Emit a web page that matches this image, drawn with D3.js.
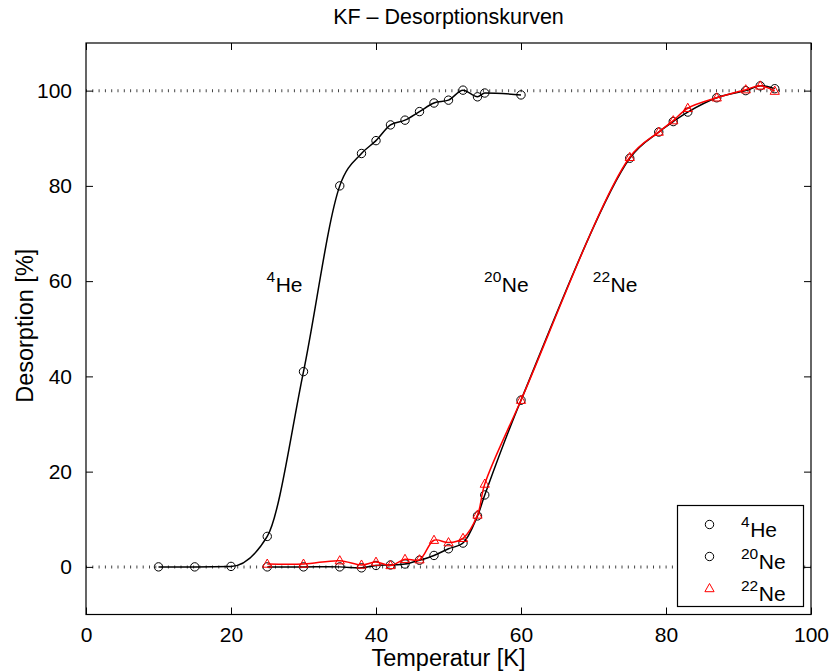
<!DOCTYPE html>
<html>
<head>
<meta charset="utf-8">
<script src="https://cdn.jsdelivr.net/npm/d3@7"></script>
<style>
  html, body { margin: 0; padding: 0; background: #fff; }
  svg { display: block; font-family: "Liberation Sans", Arial, Helvetica, sans-serif; }
</style>
</head>
<body>
<svg id="chart" width="832" height="671"></svg>
<script>
// Desorption measurements (temperature in K, desorption in %)
const heTemps = [10, 15, 20, 25, 30, 35, 38, 40, 42, 44, 46, 48, 50, 52, 54, 55, 60];
const he4 = [0, 0, 0.1, 6.4, 41.0, 80.0, 86.8, 89.5, 92.8, 93.8, 95.6, 97.4, 98.0, 100.1, 98.7, 99.5, 99.1];

const neTemps = [25, 30, 35, 38, 40, 42, 44, 46, 48, 50, 52, 54, 55, 60, 75, 79, 81, 83, 87, 91, 93, 95];
const ne20 = [0, 0, 0, -0.2, 0.3, 0.4, 0.6, 1.4, 2.4, 3.8, 5.0, 10.7, 15.1, 35.0, 85.8, 91.3, 93.5, 95.5, 98.5, 100.0, 101.0, 100.4];
const ne22 = [0.6, 0.6, 1.3, 0.4, 1.0, 0.3, 1.6, 1.5, 5.6, 5.1, 6.0, 10.9, 17.4, 35.0, 86.0, 91.3, 93.7, 96.3, 98.5, 100.2, 101.0, 99.9];

const xTicks = [0, 20, 40, 60, 80, 100];
const yTicks = [0, 20, 40, 60, 80, 100];
const refLevels = [0, 100];

const titleText = "KF \u2013 Desorptionskurven";
const xLabel = "Temperatur [K]";
const yLabel = "Desorption [%]";

// He uses a shape-preserving interpolant (flat tail stays flat), Ne a centripetal spline
const series = [
  { mass: "4",  name: "He", temps: heTemps, values: he4,  color: "#000", marker: "circle",   curve: d3.curveMonotoneX },
  { mass: "20", name: "Ne", temps: neTemps, values: ne20, color: "#000", marker: "circle",   curve: d3.curveCatmullRom.alpha(0.5) },
  { mass: "22", name: "Ne", temps: neTemps, values: ne22, color: "#f00", marker: "triangle", curve: d3.curveCatmullRom.alpha(0.5) }
];

const svg = d3.select("#chart");
const plotL = 86, plotR = 811, plotT = 43, plotB = 614.5;
const fs = 21, supFs = 15.5, labelFs = 23.5, titleFs = 21.5;

const x = d3.scaleLinear().domain([0, 100]).range([plotL, plotR]);
const y = d3.scaleLinear().domain([-10, 110]).range([plotB, plotT]);

// Dotted reference lines at 0 % and 100 %
svg.append("g").selectAll("line").data(refLevels).join("line")
  .attr("x1", plotL).attr("x2", plotR)
  .attr("y1", d => y(d)).attr("y2", d => y(d))
  .attr("stroke", "#444").attr("stroke-width", 3)
  .attr("stroke-dasharray", "1 5.3");

const triPath = "M0,-5L4.6,3.2L-4.6,3.2Z";

// Smooth curves through the measured points, then the markers
series.forEach(s => {
  const pts = s.temps.map((t, i) => [x(t), y(s.values[i])]);
  svg.append("path")
    .attr("d", d3.line().curve(s.curve)(pts))
    .attr("fill", "none")
    .attr("stroke", s.color)
    .attr("stroke-width", 1.5);
  const g = svg.append("g");
  if (s.marker === "circle") {
    g.selectAll("circle").data(pts).join("circle")
      .attr("cx", d => d[0]).attr("cy", d => d[1]).attr("r", 4.2)
      .attr("fill", "none").attr("stroke", s.color).attr("stroke-width", 1);
  } else {
    g.selectAll("path").data(pts).join("path")
      .attr("d", triPath)
      .attr("transform", d => `translate(${d[0]},${d[1]})`)
      .attr("fill", "none").attr("stroke", s.color).attr("stroke-width", 1);
  }
});

// Axes box with inward ticks on all four sides
const tickLen = 7;
const axB = d3.axisBottom(x).tickValues(xTicks).tickSizeInner(-tickLen).tickSizeOuter(0).tickPadding(13);
const axT = d3.axisTop(x).tickValues(xTicks).tickSizeInner(-tickLen).tickSizeOuter(0).tickFormat("");
const axL = d3.axisLeft(y).tickValues(yTicks).tickSizeInner(-tickLen).tickSizeOuter(0).tickPadding(14);
const axR = d3.axisRight(y).tickValues(yTicks).tickSizeInner(-tickLen).tickSizeOuter(0).tickFormat("");

function styleAxis(g) {
  g.select(".domain").remove();
  g.selectAll("line").attr("stroke", "#000").attr("stroke-width", 1);
  g.selectAll("text").attr("font-size", fs).attr("fill", "#000").attr("font-family", null);
}
svg.append("g").attr("transform", `translate(0,${plotB})`).call(axB).call(styleAxis);
svg.append("g").attr("transform", `translate(0,${plotT})`).call(axT).call(styleAxis);
svg.append("g").attr("transform", `translate(${plotL},0)`).call(axL).call(styleAxis);
svg.append("g").attr("transform", `translate(${plotR},0)`).call(axR).call(styleAxis);

svg.append("rect")
  .attr("x", plotL).attr("y", plotT)
  .attr("width", plotR - plotL).attr("height", plotB - plotT)
  .attr("fill", "none").attr("stroke", "#000").attr("stroke-width", 1.2);

// Isotope label helper: superscript mass number followed by element symbol
function isotopeText(sel, s) {
  sel.append("tspan").attr("font-size", supFs).attr("dy", -10).text(s.mass);
  sel.append("tspan").attr("font-size", fs).attr("dy", 10).attr("dx", 0.5).text(s.name);
}

// Curve annotations
const notes = [
  { s: series[0], t: 24.9 },
  { s: series[1], t: 54.9 },
  { s: series[2], t: 69.9 }
];
notes.forEach(n => {
  svg.append("text")
    .attr("x", x(n.t)).attr("y", 292)
    .attr("fill", "#000")
    .call(sel => isotopeText(sel, n.s));
});

// Legend
const lg = svg.append("g");
lg.append("rect")
  .attr("x", 677.5).attr("y", 505.5).attr("width", 126).attr("height", 101)
  .attr("fill", "#fff").attr("stroke", "#000").attr("stroke-width", 1.2);
series.forEach((s, i) => {
  const cy = 524.5 + i * 32;
  if (s.marker === "circle") {
    lg.append("circle").attr("cx", 709.5).attr("cy", cy).attr("r", 4.2)
      .attr("fill", "none").attr("stroke", s.color).attr("stroke-width", 1);
  } else {
    lg.append("path").attr("d", triPath).attr("transform", `translate(709.5,${cy})`)
      .attr("fill", "none").attr("stroke", s.color).attr("stroke-width", 1);
  }
  lg.append("text").attr("x", 741).attr("y", cy + 12).attr("fill", "#000")
    .call(sel => isotopeText(sel, s));
});

// Title and axis labels
svg.append("text").attr("x", (plotL + plotR) / 2).attr("y", 24)
  .attr("text-anchor", "middle").attr("font-size", titleFs).text(titleText);
svg.append("text").attr("x", (plotL + plotR) / 2).attr("y", 666)
  .attr("text-anchor", "middle").attr("font-size", labelFs).text(xLabel);
svg.append("text")
  .attr("transform", `translate(33,${(plotT + plotB) / 2 - 3}) rotate(-90)`)
  .attr("text-anchor", "middle").attr("font-size", labelFs).text(yLabel);
</script>
</body>
</html>
